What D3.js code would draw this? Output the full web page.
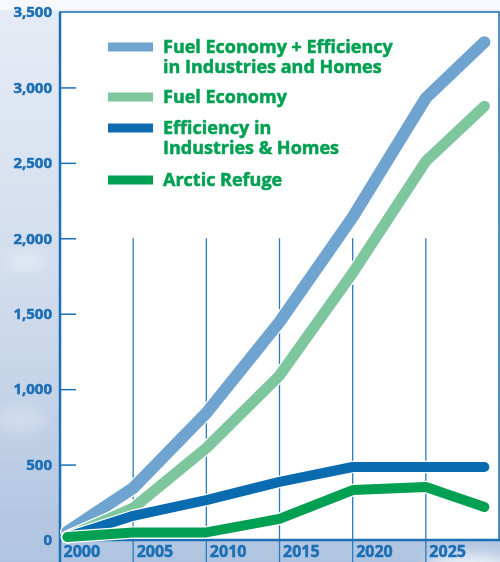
<!DOCTYPE html>
<html>
<head>
<meta charset="utf-8">
<script src="https://cdn.jsdelivr.net/npm/d3@7"></script>
<style>
  body { margin: 0; background: #fff; }
  svg { display: block; }
  text { font-family: "Open Sans", "Noto Sans", sans-serif; font-weight: bold; }
</style>
</head>
<body>
<svg id="chart"></svg>
<script>
// data
const years = [2000.5, 2005, 2010, 2015, 2020, 2025, 2029];
const fuelAndEfficiency = [55, 345, 842, 1445, 2140, 2930, 3300];
const fuelEconomy = [20, 212, 610, 1090, 1770, 2510, 2876];
const efficiency = [20, 160, 265, 385, 484, 484, 484];
const arcticRefuge = [20, 50, 50, 140, 331, 351, 219];

const yTicks = [0, 500, 1000, 1500, 2000, 2500, 3000, 3500];
const xTicks = [2000, 2005, 2010, 2015, 2020, 2025];
const gridYears = [2005, 2010, 2015, 2020, 2025];

const seriesNames = [
    ["Fuel Economy + Efficiency", "in Industries and Homes"],
    ["Fuel Economy"],
    ["Efficiency in", "Industries & Homes"],
    ["Arctic Refuge"]
];
const seriesValues = [fuelAndEfficiency, fuelEconomy, efficiency, arcticRefuge];
const colors = ["#6fa4d1", "#7ec69e", "#0a6bb0", "#00a052"];
const widths = [12, 11, 10, 10];

const w = 500, h = 562;
const pLeft = 60, pTop = 12, pRight = 499, pBottom = 540;
const axisColor = "#1c6fb4";

const svg = d3.select("#chart").attr("width", w).attr("height", h);

// background
const defs = svg.append("defs");
const grad = defs.append("linearGradient").attr("id", "bg")
    .attr("x1", 0).attr("y1", 0).attr("x2", 0).attr("y2", 1);
grad.append("stop").attr("offset", "0%").attr("stop-color", "#e6ecf5");
grad.append("stop").attr("offset", "55%").attr("stop-color", "#cfdbec");
grad.append("stop").attr("offset", "100%").attr("stop-color", "#afc4e0");
defs.append("filter").attr("id", "blur")
    .append("feGaussianBlur").attr("stdDeviation", 7);

svg.append("rect").attr("width", w).attr("height", h).attr("fill", "url(#bg)");
svg.append("rect").attr("width", w).attr("height", 10).attr("fill", "#f6f8fb");

const clouds = svg.append("g").attr("filter", "url(#blur)").attr("fill", "#fff");
clouds.append("ellipse").attr("cx", 25).attr("cy", 262).attr("rx", 20).attr("ry", 9).attr("opacity", 0.35);
clouds.append("ellipse").attr("cx", 20).attr("cy", 420).attr("rx", 25).attr("ry", 14).attr("opacity", 0.25);
clouds.append("ellipse").attr("cx", 470).attr("cy", 565).attr("rx", 45).attr("ry", 12).attr("opacity", 0.7);

// scales
const xScale = d3.scaleLinear().domain([2000, 2030]).range([pLeft, pRight]);
const yScale = d3.scaleLinear().domain([0, 3500]).range([pBottom, pTop]);

// plot area
svg.append("rect")
    .attr("x", pLeft).attr("y", pTop)
    .attr("width", pRight - pLeft).attr("height", pBottom - pTop)
    .attr("fill", "#fff")
    .attr("stroke", axisColor).attr("stroke-width", 1.5);

// vertical grid lines from 2,000 down, continuing below the axis
svg.append("g")
    .selectAll("line")
    .data(gridYears)
    .join("line")
    .attr("x1", d => xScale(d)).attr("x2", d => xScale(d))
    .attr("y1", yScale(2000)).attr("y2", h)
    .attr("stroke", "#2a7cc0").attr("stroke-width", 1.3);

// y axis (ticks point inward)
const yAxis = d3.axisRight(yScale)
    .tickValues(yTicks)
    .tickSize(16)
    .tickFormat(d3.format(","));
const yG = svg.append("g")
    .attr("transform", `translate(${pLeft},0)`)
    .call(yAxis);
yG.select(".domain").remove();
yG.selectAll(".tick line").attr("stroke", axisColor).attr("stroke-width", 1.5)
    .attr("opacity", d => d === 0 || d === 3500 ? 0 : 1);
yG.selectAll(".tick text")
    .attr("x", -8)
    .attr("text-anchor", "end")
    .attr("fill", axisColor)
    .attr("stroke", axisColor).attr("stroke-width", 0.5)
    .style("font-size", "15px");

// x axis
const xAxis = d3.axisBottom(xScale)
    .tickValues(xTicks)
    .tickSize(0)
    .tickFormat(d3.format("d"));
const xG = svg.append("g")
    .attr("transform", `translate(0,${pBottom})`)
    .call(xAxis);
xG.select(".domain").remove();
xG.selectAll(".tick text")
    .attr("x", 3).attr("y", 6)
    .attr("text-anchor", "start")
    .attr("fill", axisColor)
    .attr("stroke", axisColor).attr("stroke-width", 0.5)
    .style("font-size", "16px");

svg.append("line")
    .attr("x1", pLeft).attr("x2", pLeft)
    .attr("y1", pTop).attr("y2", h)
    .attr("stroke", axisColor).attr("stroke-width", 2.5);
svg.append("line")
    .attr("x1", pLeft).attr("x2", w)
    .attr("y1", pBottom).attr("y2", pBottom)
    .attr("stroke", axisColor).attr("stroke-width", 2.5);

// lines
const line = d3.line()
    .x((d, i) => xScale(years[i]))
    .y(d => yScale(d));

const lines = svg.append("g");
seriesValues.forEach((vals, i) => {
    lines.append("path")
        .attr("d", line(vals))
        .attr("fill", "none")
        .attr("stroke", "#fff")
        .attr("stroke-width", widths[i] + 2.5)
        .attr("stroke-linejoin", "round")
        .attr("stroke-linecap", "round");
    lines.append("path")
        .attr("d", line(vals))
        .attr("fill", "none")
        .attr("stroke", colors[i])
        .attr("stroke-width", widths[i])
        .attr("stroke-linejoin", "round")
        .attr("stroke-linecap", "round");
});

// legend, one text per line of label
const legendY = [47, 97, 128, 180];
const legend = svg.append("g");
seriesNames.forEach((name, i) => {
    legend.append("line")
        .attr("x1", 108).attr("x2", 153)
        .attr("y1", legendY[i]).attr("y2", legendY[i])
        .attr("stroke", colors[i]).attr("stroke-width", 9);
    name.forEach((part, j) => {
        legend.append("text")
            .attr("x", 163).attr("y", legendY[i] + 20 * j)
            .attr("dy", "0.36em")
            .attr("fill", "#00a052")
            .attr("stroke", "#00a052").attr("stroke-width", 0.5)
            .style("font-size", "18px")
            .text(part);
    });
});
</script>
</body>
</html>
